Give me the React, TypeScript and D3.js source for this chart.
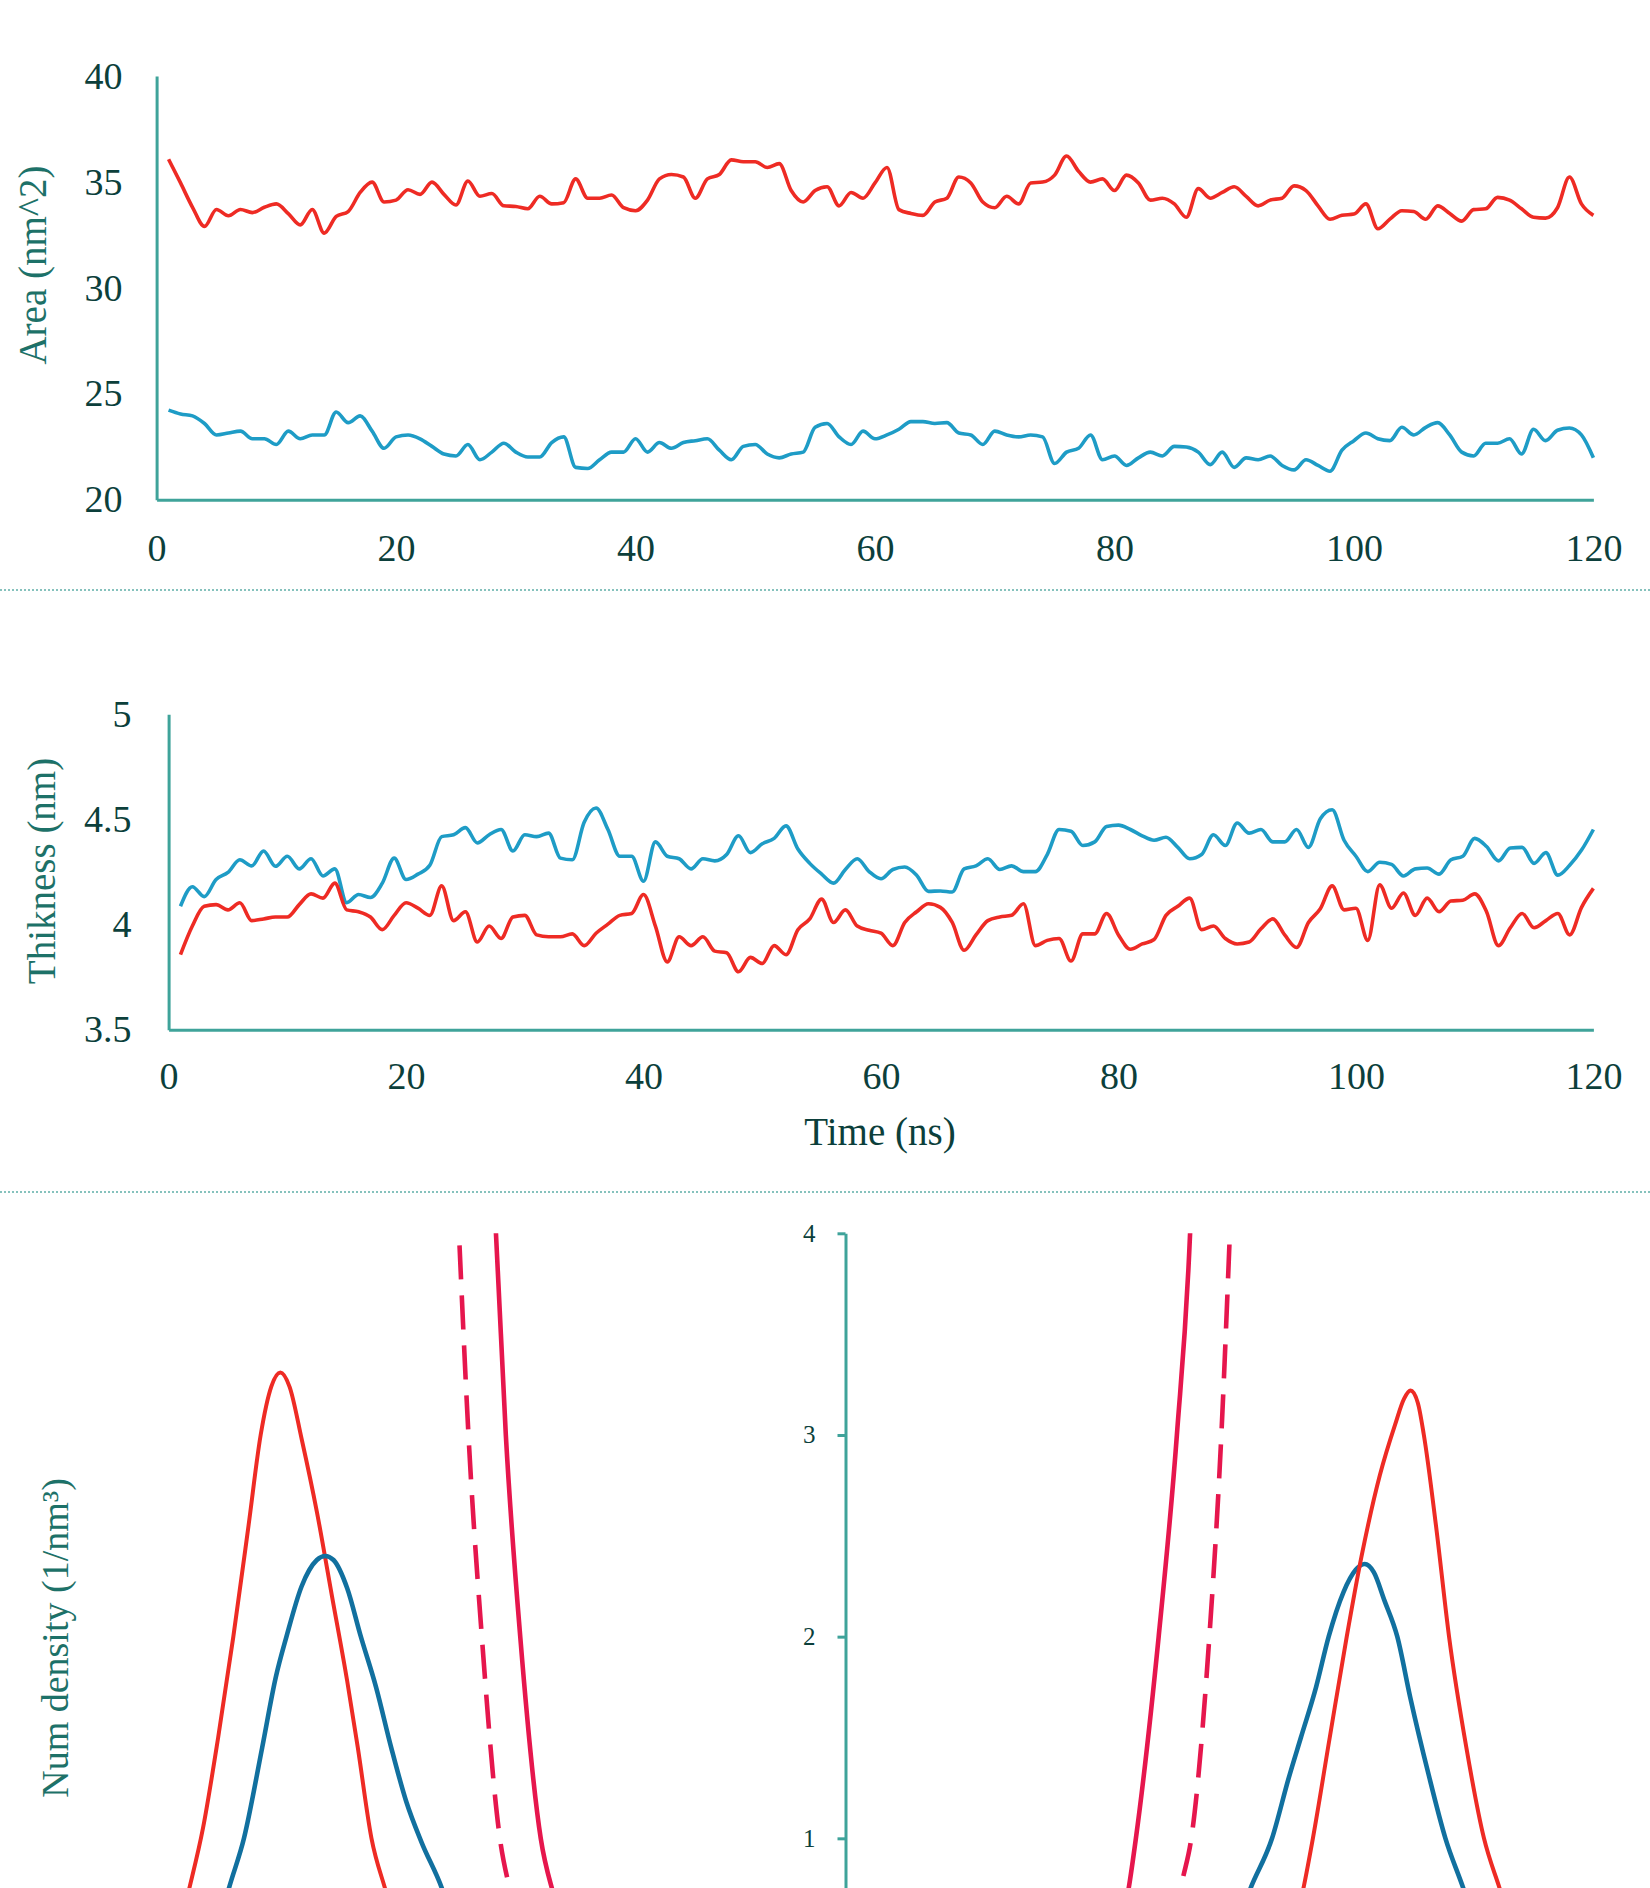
import { useRef, useEffect } from "react";
import * as d3 from "d3";

// ---- data ----
const timeNs = d3.range(1, 121);

const areaRed = [
  36.07, 34.95, 33.8, 32.9, 33.7, 33.4, 33.7, 33.55, 33.8, 33.96,
  33.5, 32.97, 33.7, 32.58, 33.37, 33.6, 34.5, 34.99, 34.05, 34.14,
  34.63, 34.41, 34.99, 34.41, 33.91, 35.04, 34.32, 34.45, 33.87, 33.84,
  33.73, 34.32, 33.96, 34.02, 35.14, 34.23, 34.23, 34.38, 33.78, 33.64,
  34.14, 35.14, 35.35, 35.23, 34.23, 35.14, 35.35, 36.04, 35.95, 35.95,
  35.68, 35.86, 34.59, 34.05, 34.59, 34.77, 33.87, 34.5, 34.23, 34.95,
  35.68, 33.69, 33.51, 33.42, 34.05, 34.23, 35.23, 34.95, 34.05, 33.78,
  34.32, 33.96, 34.95, 34.99, 35.32, 36.22, 35.5, 34.99, 35.14, 34.59,
  35.32, 34.95, 34.14, 34.23, 33.96, 33.33, 34.68, 34.23, 34.5, 34.77,
  34.32, 33.87, 34.14, 34.23, 34.81, 34.59, 33.87, 33.24, 33.42, 33.48,
  33.96, 32.79, 33.24, 33.64, 33.6, 33.24, 33.87, 33.51, 33.15, 33.69,
  33.73, 34.27, 34.14, 33.73, 33.33, 33.29, 33.78, 35.23, 33.96, 33.42,
];

const areaBlue = [
  24.23, 24.05, 23.96, 23.6, 23.06, 23.15, 23.24, 22.88, 22.88, 22.61,
  23.24, 22.88, 23.06, 23.06, 24.14, 23.64, 23.96, 23.24, 22.43, 22.97,
  23.06, 22.88, 22.52, 22.16, 22.07, 22.61, 21.89, 22.25, 22.67, 22.25,
  22.02, 22.02, 22.7, 22.97, 21.53, 21.48, 21.89, 22.25, 22.25, 22.88,
  22.25, 22.7, 22.43, 22.7, 22.79, 22.88, 22.34, 21.89, 22.52, 22.61,
  22.16, 21.98, 22.16, 22.25, 23.42, 23.6, 22.97, 22.61, 23.24, 22.88,
  23.06, 23.33, 23.69, 23.69, 23.6, 23.64, 23.15, 23.06, 22.61, 23.24,
  23.06, 22.97, 23.06, 22.97, 21.71, 22.25, 22.43, 23.06, 21.89, 22.07,
  21.62, 21.98, 22.25, 22.07, 22.52, 22.49, 22.25, 21.66, 22.25, 21.53,
  21.98, 21.89, 22.07, 21.62, 21.41, 21.89, 21.62, 21.35, 22.34, 22.79,
  23.15, 22.88, 22.79, 23.42, 23.06, 23.42, 23.64, 23.06, 22.25, 22.07,
  22.67, 22.67, 22.88, 22.16, 23.33, 22.79, 23.28, 23.39, 23.06, 21.98,
];

const thickRed = [
  3.857, 3.993, 4.087, 4.095, 4.07, 4.104, 4.019, 4.027, 4.036, 4.036,
  4.095, 4.146, 4.126, 4.197, 4.07, 4.061, 4.036, 3.976, 4.044, 4.104,
  4.078, 4.044, 4.184, 4.019, 4.061, 3.917, 3.993, 3.934, 4.036, 4.044,
  3.951, 3.942, 3.942, 3.956, 3.9, 3.959, 4.002, 4.044, 4.053, 4.143,
  3.993, 3.823, 3.942, 3.9, 3.942, 3.874, 3.866, 3.776, 3.844, 3.815,
  3.9, 3.857, 3.976, 4.027, 4.121, 4.01, 4.07, 3.993, 3.973, 3.959,
  3.9, 4.01, 4.061, 4.099, 4.082, 4.01, 3.878, 3.951, 4.019, 4.036,
  4.044, 4.099, 3.9, 3.925, 3.934, 3.827, 3.956, 3.956, 4.053, 3.951,
  3.883, 3.908, 3.929, 4.044, 4.087, 4.126, 3.976, 3.993, 3.934, 3.908,
  3.917, 3.98, 4.027, 3.951, 3.891, 4.01, 4.075, 4.184, 4.07, 4.078,
  3.925, 4.189, 4.078, 4.15, 4.044, 4.126, 4.061, 4.112, 4.116, 4.146,
  4.061, 3.9, 3.985, 4.053, 3.985, 4.019, 4.053, 3.951, 4.082, 4.172,
];

const thickBlue = [
  4.087, 4.18, 4.133, 4.214, 4.248, 4.308, 4.279, 4.35, 4.277, 4.325,
  4.265, 4.313, 4.231, 4.265, 4.104, 4.143, 4.129, 4.197, 4.316, 4.214,
  4.24, 4.282, 4.418, 4.427, 4.461, 4.388, 4.427, 4.452, 4.35, 4.427,
  4.418, 4.435, 4.316, 4.308, 4.486, 4.554, 4.452, 4.325, 4.325, 4.206,
  4.393, 4.325, 4.313, 4.265, 4.313, 4.303, 4.333, 4.422, 4.342, 4.384,
  4.41, 4.469, 4.359, 4.291, 4.24, 4.197, 4.262, 4.313, 4.252, 4.218,
  4.262, 4.274, 4.235, 4.158, 4.16, 4.155, 4.265, 4.279, 4.313, 4.262,
  4.279, 4.252, 4.252, 4.333, 4.452, 4.444, 4.376, 4.393, 4.466, 4.473,
  4.452, 4.422, 4.401, 4.415, 4.367, 4.313, 4.333, 4.427, 4.376, 4.483,
  4.435, 4.452, 4.393, 4.393, 4.452, 4.367, 4.503, 4.546, 4.401, 4.325,
  4.252, 4.296, 4.286, 4.231, 4.265, 4.269, 4.24, 4.308, 4.325, 4.41,
  4.371, 4.303, 4.364, 4.367, 4.291, 4.342, 4.235, 4.282, 4.354, 4.452,
];

const areaTicks = [20, 25, 30, 35, 40];
const thickTicks = [3.5, 4, 4.5, 5];
const timeTicks = [0, 20, 40, 60, 80, 100, 120];
const densityTicks = [1, 2, 3, 4];

// density profiles (z in nm, density in 1/nm^3)
const leftRedZ = [0.7, 0.85, 1.0, 1.1, 1.2, 1.3, 1.4, 1.48, 1.55, 1.61, 1.67, 1.75, 1.85, 1.95, 2.05, 2.12, 2.21, 2.3, 2.4, 2.55, 2.75];
const leftRedD = [0.05, 0.25, 0.72, 1.05, 1.5, 2.0, 2.55, 3.0, 3.24, 3.31, 3.24, 2.98, 2.62, 2.2, 1.78, 1.45, 1.0, 0.75, 0.5, 0.22, 0.05];
const leftBlueZ = [1.0, 1.15, 1.27, 1.37, 1.49, 1.58, 1.65, 1.75, 1.85, 1.905, 1.96, 2.05, 2.14, 2.24, 2.34, 2.44, 2.54, 2.675, 2.8, 3.0];
const leftBlueD = [0.08, 0.4, 0.75, 1.0, 1.45, 1.8, 2.0, 2.25, 2.38, 2.4, 2.38, 2.24, 2.0, 1.75, 1.45, 1.18, 0.98, 0.75, 0.45, 0.12];
const leftWaterZ = [2.98, 3.03, 3.095, 3.19, 3.325, 3.41, 3.55, 3.8];
const leftWaterD = [4.6, 4.0, 3.0, 2.0, 1.0, 0.72, 0.4, 0.12];
const leftWaterDashZ = [2.79, 2.849, 2.937, 3.056, 3.12, 3.25, 3.5];
const leftWaterDashD = [3.94, 3.0, 2.0, 1.0, 0.75, 0.4, 0.1];

const rightWaterZ = [1.5, 1.72, 1.865, 1.913, 2.063, 2.183, 2.27, 2.3];
const rightWaterD = [0.12, 0.4, 0.75, 1.0, 2.0, 3.0, 4.0, 4.6];
const rightWaterDashZ = [1.95, 2.1, 2.222, 2.278, 2.397, 2.476, 2.532];
const rightWaterDashD = [0.1, 0.4, 0.8, 1.0, 2.0, 3.0, 4.0];
const rightBlueZ = [2.3, 2.5, 2.667, 2.81, 2.92, 3.0, 3.1, 3.183, 3.28, 3.36, 3.42, 3.48, 3.55, 3.635, 3.72, 3.84, 3.952, 4.071, 4.2, 4.4];
const rightBlueD = [0.1, 0.4, 0.75, 1.0, 1.3, 1.5, 1.75, 2.0, 2.22, 2.33, 2.36, 2.32, 2.18, 2.0, 1.7, 1.32, 1.0, 0.75, 0.45, 0.1];
const rightRedZ = [2.75, 2.9, 3.016, 3.079, 3.19, 3.302, 3.4, 3.52, 3.62, 3.68, 3.722, 3.77, 3.81, 3.89, 3.976, 4.09, 4.206, 4.31, 4.45, 4.65];
const rightRedD = [0.1, 0.4, 0.75, 1.0, 1.5, 2.0, 2.4, 2.8, 3.05, 3.18, 3.22, 3.16, 3.0, 2.55, 2.0, 1.45, 1.0, 0.75, 0.42, 0.1];

const W = 1650;
const H = 1888;
const FONT = "'Liberation Serif', 'Times New Roman', serif";
const AXIS = "#3fa39a";
const TICKTXT = "#0c3f3b";
const TITLE = "#1d7168";
const RED = "#ee2b24";
const CYAN = "#1e9cc6";
const BLUE = "#11709f";
const CRIMSON = "#e6164d";

export default function App() {
  const svgRef = useRef<SVGSVGElement>(null);

  useEffect(() => {
    if (!svgRef.current) return;
    const svg = d3.select(svgRef.current);
    svg.selectAll("*").remove();

    const styleAxis = (g: any, fs: number) => {
      g.select(".domain").attr("stroke", AXIS).attr("stroke-width", 3);
      g.selectAll(".tick line").attr("stroke", AXIS).attr("stroke-width", 3);
      g.selectAll("text")
        .attr("fill", TICKTXT)
        .attr("font-family", FONT)
        .attr("font-size", fs);
    };

    // separators
    [590, 1192].forEach((y) => {
      svg.append("line")
        .attr("x1", 0).attr("x2", W).attr("y1", y).attr("y2", y)
        .attr("stroke", "#86c2bd").attr("stroke-width", 2)
        .attr("stroke-dasharray", "2,2");
    });

    // ---------- Area chart ----------
    const x1 = d3.scaleLinear().domain([0, 120]).range([156.6, 1593.4]);
    const y1 = d3.scaleLinear().domain([20, 40]).range([499.8, 75.9]);
    const g1 = svg.append("g");
    g1.append("g")
      .attr("transform", "translate(156.6,0)")
      .call(d3.axisLeft(y1).tickValues(areaTicks).tickSize(0).tickPadding(34).tickFormat(d3.format("d")))
      .call((g: any) => styleAxis(g, 38));
    g1.append("g")
      .attr("transform", "translate(0,499.8)")
      .call(d3.axisBottom(x1).tickValues(timeTicks).tickSize(0).tickPadding(34))
      .call((g: any) => styleAxis(g, 38));
    g1.append("text")
      .attr("transform", "translate(46,265) rotate(-90)")
      .attr("text-anchor", "middle")
      .attr("font-family", FONT).attr("font-size", 39)
      .attr("fill", TITLE)
      .text("Area (nm^2)");

    const line1 = d3.line<number>()
      .x((_, i) => x1(timeNs[i]))
      .y((d) => y1(d))
      .curve(d3.curveMonotoneX);
    g1.append("path").datum(areaRed).attr("d", line1)
      .attr("fill", "none").attr("stroke", RED).attr("stroke-width", 3.6);
    g1.append("path").datum(areaBlue).attr("d", line1)
      .attr("fill", "none").attr("stroke", CYAN).attr("stroke-width", 3.6);

    // ---------- Thickness chart ----------
    const x2 = d3.scaleLinear().domain([0, 120]).range([168.6, 1593.4]);
    const y2 = d3.scaleLinear().domain([3.5, 5]).range([1029.8, 714.2]);
    const g2 = svg.append("g");
    g2.append("g")
      .attr("transform", "translate(168.6,0)")
      .call(d3.axisLeft(y2).tickValues(thickTicks).tickSize(0).tickPadding(37).tickFormat((d: any) => String(d)))
      .call((g: any) => styleAxis(g, 38));
    g2.append("g")
      .attr("transform", "translate(0,1029.8)")
      .call(d3.axisBottom(x2).tickValues(timeTicks).tickSize(0).tickPadding(32))
      .call((g: any) => styleAxis(g, 38));
    g2.append("text")
      .attr("transform", "translate(55,871) rotate(-90)")
      .attr("text-anchor", "middle")
      .attr("font-family", FONT).attr("font-size", 39)
      .attr("fill", TITLE)
      .text("Thikness (nm)");
    g2.append("text")
      .attr("x", 880).attr("y", 1145)
      .attr("text-anchor", "middle")
      .attr("font-family", FONT).attr("font-size", 39)
      .attr("fill", TICKTXT)
      .text("Time (ns)");

    const line2 = d3.line<number>()
      .x((_, i) => x2(timeNs[i]))
      .y((d) => y2(d))
      .curve(d3.curveMonotoneX);
    g2.append("path").datum(thickBlue).attr("d", line2)
      .attr("fill", "none").attr("stroke", CYAN).attr("stroke-width", 3.6);
    g2.append("path").datum(thickRed).attr("d", line2)
      .attr("fill", "none").attr("stroke", RED).attr("stroke-width", 3.6);

    // ---------- Density profiles ----------
    const yd = d3.scaleLinear().domain([0, 4]).range([2040, 1233.3]);
    const xl = d3.scaleLinear().domain([0, 5]).range([36, 795]);
    const xr = d3.scaleLinear().domain([0, 5]).range([845.5, 1604.5]);

    const defs = svg.append("defs");
    defs.append("clipPath").attr("id", "dens-clip")
      .append("rect").attr("x", 0).attr("y", 1233.3).attr("width", W).attr("height", H - 1233.3);

    const g3 = svg.append("g");
    g3.append("g")
      .attr("transform", "translate(845.5,0)")
      .call(d3.axisLeft(yd).tickValues(densityTicks).tickSize(8).tickSizeOuter(0).tickPadding(22).tickFormat(d3.format("d")))
      .call((g: any) => styleAxis(g, 25));
    g3.append("text")
      .attr("transform", "translate(68,1638) rotate(-90)")
      .attr("text-anchor", "middle")
      .attr("font-family", FONT).attr("font-size", 38)
      .attr("fill", TITLE)
      .text("Num density (1/nm³)");

    const plot = g3.append("g").attr("clip-path", "url(#dens-clip)");
    const draw = (
      xs: number[], ds: number[], sx: any, color: string, width: number, dash?: string
    ) => {
      const pts = xs.map((z, i) => [z, ds[i]] as [number, number]);
      const ln = d3.line<[number, number]>()
        .x((d) => sx(d[0]))
        .y((d) => yd(d[1]))
        .curve(d3.curveMonotoneX);
      const p = plot.append("path").datum(pts).attr("d", ln)
        .attr("fill", "none").attr("stroke", color).attr("stroke-width", width);
      if (dash) p.attr("stroke-dasharray", dash);
    };

    draw(leftRedZ, leftRedD, xl, RED, 4);
    draw(leftBlueZ, leftBlueD, xl, BLUE, 4.6);
    draw(leftWaterZ, leftWaterD, xl, CRIMSON, 4.6);
    draw(leftWaterDashZ, leftWaterDashD, xl, CRIMSON, 4.6, "34,16");

    draw(rightWaterZ, rightWaterD, xr, CRIMSON, 4.6);
    draw(rightWaterDashZ, rightWaterDashD, xr, CRIMSON, 4.6, "34,16");
    draw(rightBlueZ, rightBlueD, xr, BLUE, 4.6);
    draw(rightRedZ, rightRedD, xr, RED, 4);
  }, []);

  return (
    <div style={{ position: "absolute", left: 0, top: 0, width: W, height: H, overflow: "hidden", background: "#fff" }}>
      <svg ref={svgRef} width={W} height={H} style={{ display: "block" }} />
    </div>
  );
}
